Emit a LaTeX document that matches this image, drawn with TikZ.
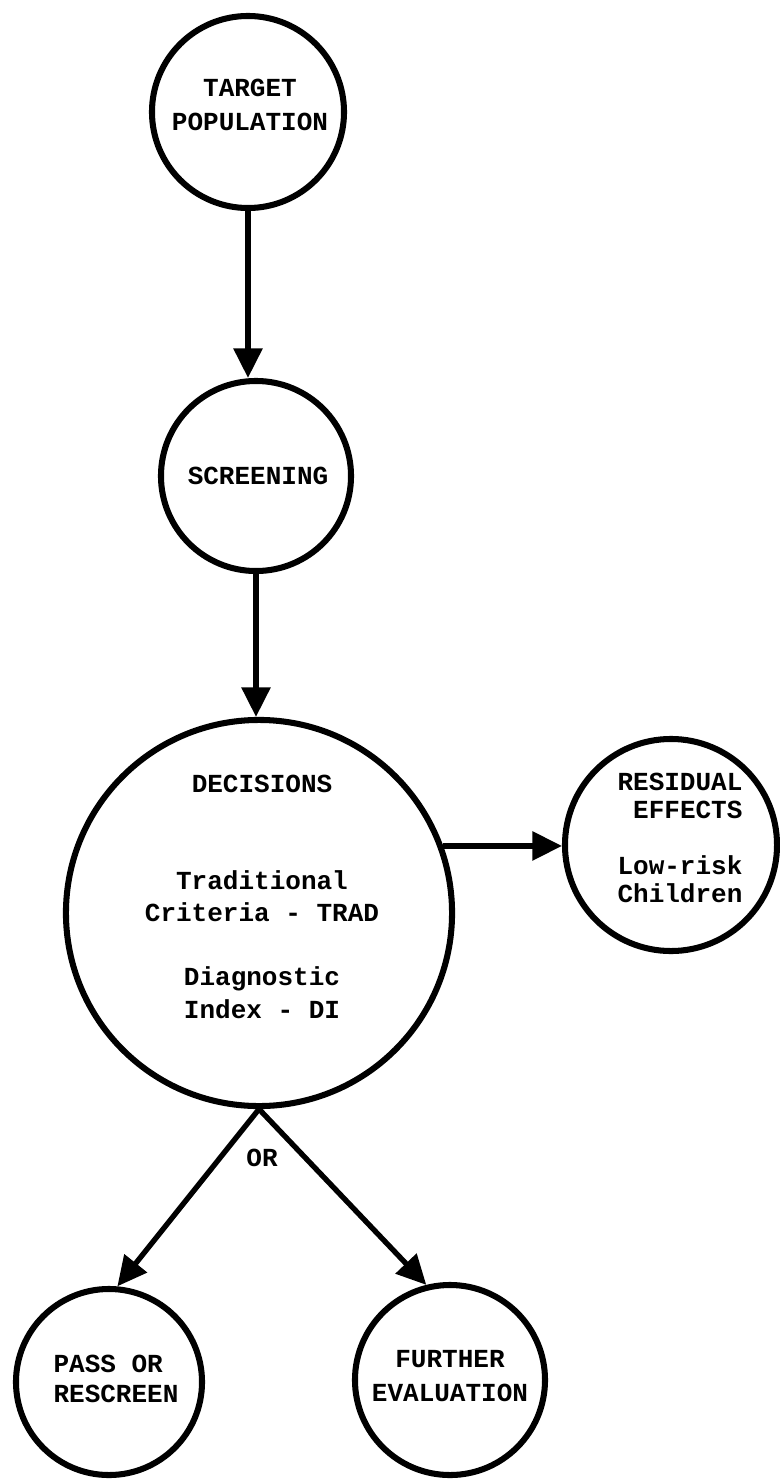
\documentclass[tikz,border=0pt]{standalone}
\usepackage{fontspec}
\setmainfont{Liberation Mono}
\usetikzlibrary{arrows.meta}
\tikzset{
  blob/.style={draw, circle, line width=4.3pt, inner sep=0pt},
  conn/.style={line width=3.8pt, -{Triangle[length=21pt,width=20pt]}},
  lbl/.style={font=\bfseries\fontsize{18.5pt}{23pt}\selectfont, inner sep=0pt}
}
\begin{document}
\begin{tikzpicture}[x=0.025cm, y=-0.025cm]
\useasboundingbox (0,0) rectangle (779,1484);

\node[blob, minimum size=4.8cm]  (tp)  at (248,112)  {};
\node[blob, minimum size=4.75cm] (scr) at (256,476)  {};
\node[blob, minimum size=9.65cm] (dec) at (259,913)  {};
\node[blob, minimum size=5.3cm]  (res) at (671,845)  {};
\node[blob, minimum size=4.65cm] (pas) at (109,1382) {};
\node[blob, minimum size=4.75cm] (fur) at (450,1380) {};

\node[lbl, align=center, font=\bfseries\fontsize{18.5pt}{24pt}\selectfont] (tpT) at (250,105) {TARGET\\POPULATION};
\node[lbl] (scrT) at (258,476) {SCREENING};
\node[lbl, align=center] (decT) at (262,897) {DECISIONS\\[45.5pt]Traditional\\Criteria - TRAD\\[22.7pt]Diagnostic\\Index - DI};
\node[lbl, align=right, font=\bfseries\fontsize{18.5pt}{19.9pt}\selectfont] (resT) at (680,838) {RESIDUAL\\EFFECTS\\[19.9pt]Low-risk\\Children};
\node[lbl, align=left, font=\bfseries\fontsize{18.5pt}{21.3pt}\selectfont] (pasT) at (116,1379) {PASS OR\\RESCREEN};
\node[lbl, align=center, font=\bfseries\fontsize{18.5pt}{24pt}\selectfont] (furT) at (450,1376) {FURTHER\\EVALUATION};
\node[lbl] (or) at (262,1158) {OR};

\draw[conn] (tp.south) -> (tp.south |- scr.north);
\draw[conn] (scr.south) -> (scr.south |- dec.north);
\draw[conn] (dec.20) -> (dec.20 -| res.west);
\draw[conn] (dec.south) -> (pas.85);
\draw[conn] (dec.south) -> (fur.104);
\end{tikzpicture}
\end{document}
